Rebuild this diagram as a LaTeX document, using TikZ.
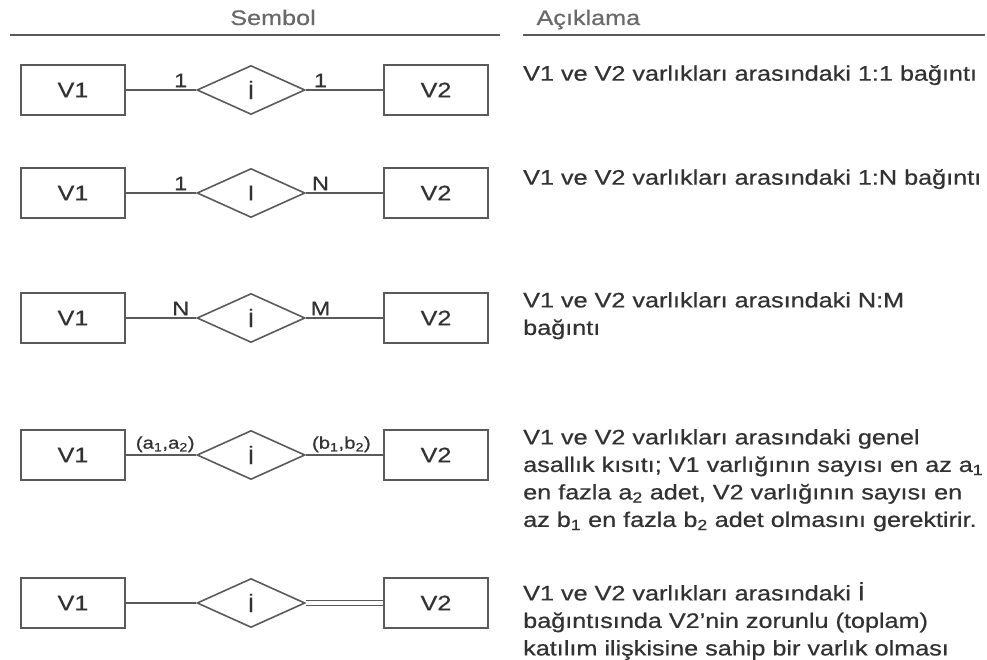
\documentclass[tikz,border=0pt]{standalone}
\usepackage{fontspec}
\setmainfont{Liberation Sans}[FakeStretch=1.2,FakeBold=0.6]
\usepackage{tikz}
\usetikzlibrary{shapes.geometric,positioning}
\usepackage{xcolor}
\definecolor{inkgray} {RGB}{ 50,  50,  50}
\definecolor{linegray}{RGB}{ 90,  90,  90}
\definecolor{headgray}{RGB}{105, 105, 105}

\begin{document}
\begin{tikzpicture}[
  x=1pt,y=-1pt,
  every node/.style={font=\fontsize{21}{27.5}\selectfont,text=inkgray},
  ent/.style={draw=linegray,line width=1.6pt,minimum width=104pt,
              minimum height=50pt,inner sep=0pt},
  rel/.style={draw=linegray,line width=1.6pt,diamond,aspect=2.2,
              minimum width=108pt,minimum height=49pt,inner sep=0pt},
  ln/.style={draw=linegray,line width=1.6pt},
  card/.style={font=\fontsize{19.5}{20}\selectfont,inner sep=2pt,above},
  desc/.style={anchor=north west,align=left,inner sep=0pt},
  hdr/.style={text=headgray},
]
\useasboundingbox (0,0) rectangle (987,660);

%% Column headers
\node[hdr,anchor=base] (sembol) at (273,25) {Sembol};
\node[hdr,anchor=base west] (aciklama) at (533,25) {Açıklama};
\draw[ln,line width=1.3pt] (10,35) -- (500,35);
\draw[ln,line width=1.3pt] (523,35) -- (985,35);

%% 1:1
\node[ent] (V1a) at (73,90) {V1};
\node[rel] (Ia) at (251,90) {İ};
\node[ent] (V2a) at (436,90) {V2};
\draw[ln] (V1a.east) -- node[card,pos=0.78] {1} (Ia.west);
\draw[ln] (Ia.east) -- node[card,pos=0.19] {1} (V2a.west);
\node[desc] (Da) at (523,65)
  {V1 ve V2 varlıkları arasındaki 1:1 bağıntı};

%% 1:N
\node[ent] (V1b) at (73,193) {V1};
\node[rel] (Ib) at (251,193) {I};
\node[ent] (V2b) at (436,193) {V2};
\draw[ln] (V1b.east) -- node[card,pos=0.78] {1} (Ib.west);
\draw[ln] (Ib.east) -- node[card,pos=0.19] {N} (V2b.west);
\node[desc] (Db) at (523,169)
  {V1 ve V2 varlıkları arasındaki 1:N bağıntı};

%% N:M
\node[ent] (V1c) at (73,318) {V1};
\node[rel] (Ic) at (251,318) {İ};
\node[ent] (V2c) at (436,318) {V2};
\draw[ln] (V1c.east) -- node[card,pos=0.78] {N} (Ic.west);
\draw[ln] (Ic.east) -- node[card,pos=0.19] {M} (V2c.west);
\node[desc] (Dc) at (523,292)
  {V1 ve V2 varlıkları arasındaki N:M\\bağıntı};

%% (min,max) constraint
\node[ent] (V1d) at (73,455) {V1};
\node[rel] (Id) at (251,455) {İ};
\node[ent] (V2d) at (436,455) {V2};
\draw[ln] (V1d.east) -- node[card,pos=0.56,font=\fontsize{17}{20}\selectfont]
  {(a\textsubscript{1},a\textsubscript{2})} (Id.west);
\draw[ln] (Id.east) -- node[card,pos=0.46,font=\fontsize{17}{20}\selectfont]
  {(b\textsubscript{1},b\textsubscript{2})} (V2d.west);
\node[desc] (Dd) at (523,429)
  {V1 ve V2 varlıkları arasındaki genel\\
   asallık kısıtı; V1 varlığının sayısı en az a\textsubscript{1}\\
   en fazla a\textsubscript{2} adet, V2 varlığının sayısı en\\
   az b\textsubscript{1} en fazla b\textsubscript{2} adet olmasını gerektirir.};

%% total participation
\node[ent] (V1e) at (73,603) {V1};
\node[rel] (Ie) at (251,603) {İ};
\node[ent] (V2e) at (436,603) {V2};
\draw[ln] (V1e.east) -- (Ie.west);
\draw[ln,line width=1.3pt,double,double distance=3.5pt] (Ie.east) -- (V2e.west);
\node[desc] (De) at (523,582)
  {V1 ve V2 varlıkları arasındaki İ\\
   bağıntısında V2'nin zorunlu (toplam)\\
   katılım ilişkisine sahip bir varlık olması};

\end{tikzpicture}
\end{document}
